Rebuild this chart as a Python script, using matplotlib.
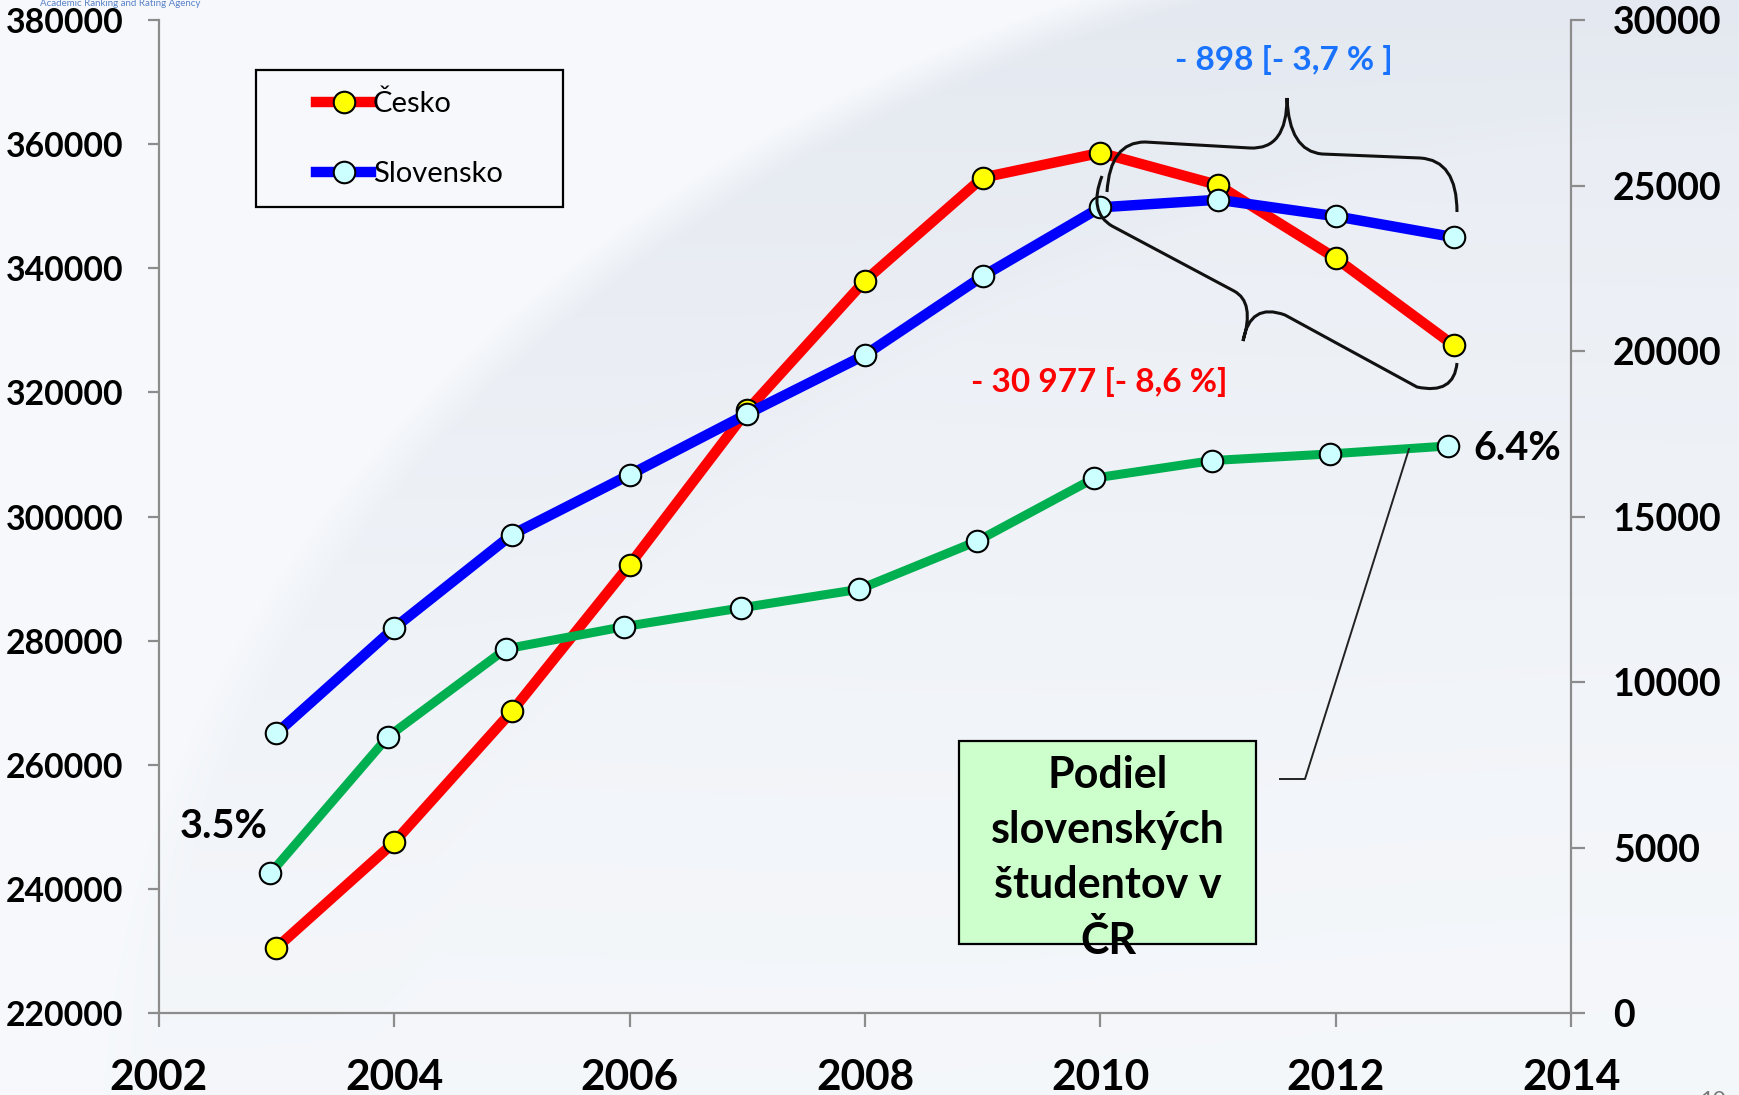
import numpy as np
import matplotlib
matplotlib.use("Agg")
import matplotlib.pyplot as plt
from matplotlib.path import Path
from matplotlib.patches import PathPatch, Rectangle
from matplotlib.lines import Line2D
from matplotlib import transforms

# ---------------- data ----------------
years = [2003, 2004, 2005, 2006, 2007, 2008, 2009, 2010, 2011, 2012, 2013]
cesko = [230500, 247500, 268600, 292200, 317100, 338000, 354600, 358600, 353400, 341600, 327600]
slovensko = [8450, 11630, 14450, 16260, 18100, 19880, 22260, 24340, 24570, 24070, 23440]
podiel = [4220, 8350, 11000, 11670, 12240, 12800, 14250, 16160, 16690, 16890, 17130]
left_ticks = list(range(220000, 380001, 20000))
right_ticks = list(range(0, 30001, 5000))
x_ticks = list(range(2002, 2015, 2))
series_names = ["Česko", "Slovensko"]
label_cz_change = "- 30 977 [- 8,6 %]"
label_sk_change = "- 898 [- 3,7 % ]"
share_start, share_end = "3.5%", "6.4%"
box_text = "Podiel\nslovenských\nštudentov v\nČR"

plt.rcParams['font.family'] = ['Lato', 'DejaVu Sans']

W, H = 1740, 1095
fig = plt.figure(figsize=(W / 100, H / 100), dpi=100)


def fx(x):
    return x / W


def fy(y):
    return 1 - y / H


# ---------------- background ----------------
bg = fig.add_axes([0, 0, 1, 1], zorder=-10)
yy, xx = np.mgrid[0:H, 0:W].astype(float)
base = np.array([0.965, 0.974, 0.986])
dark = np.array([0.895, 0.912, 0.942])
r = np.sqrt(((xx - 1700) / 1600) ** 2 + ((yy - 1150) / 1250) ** 2)
inside = np.clip((1.0 - r) / 0.03, 0, 1)
vert = np.clip(1.0 - yy / H, 0, 1)
d = inside * (0.10 + 0.90 * vert ** 1.3) * (0.6 + 0.4 * np.clip(r / 0.9, 0, 1))
r2 = np.sqrt(((xx - 1750) / 1400) ** 2 + ((yy - 1250) / 1150) ** 2)
d = d * (1 - 0.2 * np.clip((1.0 - r2) / 0.03, 0, 1) * np.clip((r2 - 0.6) / 0.4, 0, 1))
img = base[None, None, :] * (1 - d[..., None]) + dark[None, None, :] * d[..., None]
bg.imshow(img, extent=[0, 1, 0, 1], aspect='auto', interpolation='bilinear')
bg.axis('off')

# ---------------- axes ----------------
x0, x1, y0, y1 = 158.7, 1571.3, 20, 1013
ax = fig.add_axes([fx(x0), fy(y1), (x1 - x0) / W, (y1 - y0) / H])
ax.patch.set_visible(False)
ax2 = ax.twinx()
ax2.patch.set_visible(False)

ax.set_xlim(2002, 2014)
ax.set_ylim(220000, 380000)
ax2.set_ylim(0, 30000)

spine_c = '#8C8C8C'
for a in (ax, ax2):
    a.spines['top'].set_visible(False)
    for s in a.spines.values():
        s.set_color(spine_c)
        s.set_linewidth(1.6)
ax.spines['right'].set_visible(False)
ax2.spines['left'].set_visible(False)
ax2.spines['bottom'].set_visible(False)

ax.set_xticks(x_ticks, [str(t) for t in x_ticks], fontsize=30.5, fontweight='bold')
ax.set_yticks(left_ticks, [str(t) for t in left_ticks], fontsize=24.3, fontweight='bold')
ax2.set_yticks(right_ticks, [str(t) for t in right_ticks], fontsize=27, fontweight='bold')
ax.tick_params(axis='y', direction='out', length=8, width=1.6, color=spine_c, pad=17.5)
ax.tick_params(axis='x', direction='out', length=10, width=1.6, color=spine_c, pad=23)
ax2.tick_params(axis='y', direction='out', length=10, width=1.6, color=spine_c, pad=20)

mk = dict(marker='o', ms=15.5, mec='black', mew=1.5)
l_cz, = ax.plot(years, cesko, color='#FF0000', lw=7.5, mfc='#FFFF00', zorder=3, **mk)
green_tr = transforms.offset_copy(ax2.transData, fig=fig, x=-6, y=0, units='dots')
ax2.plot(years, podiel, color='#00B050', lw=6.5, mfc='#CCFFFF', zorder=2,
         transform=green_tr, **mk)
l_sk, = ax2.plot(years, slovensko, color='#0000FF', lw=7.5, mfc='#CCFFFF', zorder=3, **mk)

# ---------------- legend ----------------
fig.patches.append(Rectangle((fx(256), fy(207)), (563 - 256) / W, (207 - 70) / H,
                             transform=fig.transFigure, fill=False, ec='black', lw=1.6))
h_cz = Line2D([], [], color='#FF0000', lw=7.5, mfc='#FFFF00', **mk)
h_sk = Line2D([], [], color='#0000FF', lw=7.5, mfc='#CCFFFF', **mk)
fig.legend([h_cz, h_sk], series_names, loc='upper left',
           bbox_to_anchor=(fx(316), fy(91)), frameon=False, fontsize=21,
           borderpad=0, borderaxespad=0, handlelength=1.9, handletextpad=0.05,
           labelspacing=1.5, numpoints=1)

# ---------------- annotations ----------------
fig.text(fx(1284), fy(60), label_sk_change, color='#1A73FF', fontsize=24,
         fontweight='bold', ha='center', va='center')
fig.text(fx(1099), fy(382), label_cz_change, color='#FF0000', fontsize=24,
         fontweight='bold', ha='center', va='center')
fig.text(fx(224), fy(826), share_start, fontsize=28.5, fontweight='bold',
         ha='center', va='center')
fig.text(fx(1517), fy(448), share_end, fontsize=28.5, fontweight='bold',
         ha='center', va='center')


def brace(points):
    """points: E0, C0, S0, T0, Ct0, TIP, Ct1, T1, S1, C1, E1 in pixel coords."""
    verts = [(fx(x), fy(y)) for x, y in points]
    codes = [Path.MOVETO, Path.CURVE3, Path.CURVE3, Path.LINETO,
             Path.CURVE3, Path.CURVE3, Path.CURVE3, Path.CURVE3,
             Path.LINETO, Path.CURVE3, Path.CURVE3]
    p = PathPatch(Path(verts, codes), transform=fig.transFigure, fill=False,
                  ec='#111111', lw=2.2, zorder=6)
    fig.patches.append(p)


brace([(1107, 192), (1110, 142), (1145, 142), (1250, 148), (1287, 150), (1287, 98),
       (1289, 151), (1322, 154), (1420, 158), (1457, 160), (1457, 212)])
brace([(1102, 176), (1088, 212), (1112, 226), (1234, 291), (1255, 302), (1243, 341),
       (1250, 302), (1285, 315), (1417, 387), (1454, 395), (1457, 363)])

# callout line
fig.add_artist(Line2D([fx(1280), fx(1305), fx(1409)], [fy(779), fy(779), fy(449)],
                      transform=fig.transFigure, color='#222222', lw=1.4))

# green box
fig.patches.append(Rectangle((fx(959), fy(944)), (1256 - 959) / W, (944 - 741) / H,
                             transform=fig.transFigure, fc='#CCFFCC', ec='black',
                             lw=1.6, zorder=5))
fig.text(fx(1108), fy(858), box_text, fontsize=31, fontweight='bold', ha='center',
         va='center', linespacing=1.45, zorder=7)

# small header / page number
fig.text(fx(40), fy(3), "Academic Ranking and Rating Agency", fontsize=7,
         color='#5A82C8', va='center', ha='left')
fig.text(fx(1700), fy(1100), "10", fontsize=16, color='#777777', va='center', ha='left')

fig.savefig("out.png", dpi=100)
